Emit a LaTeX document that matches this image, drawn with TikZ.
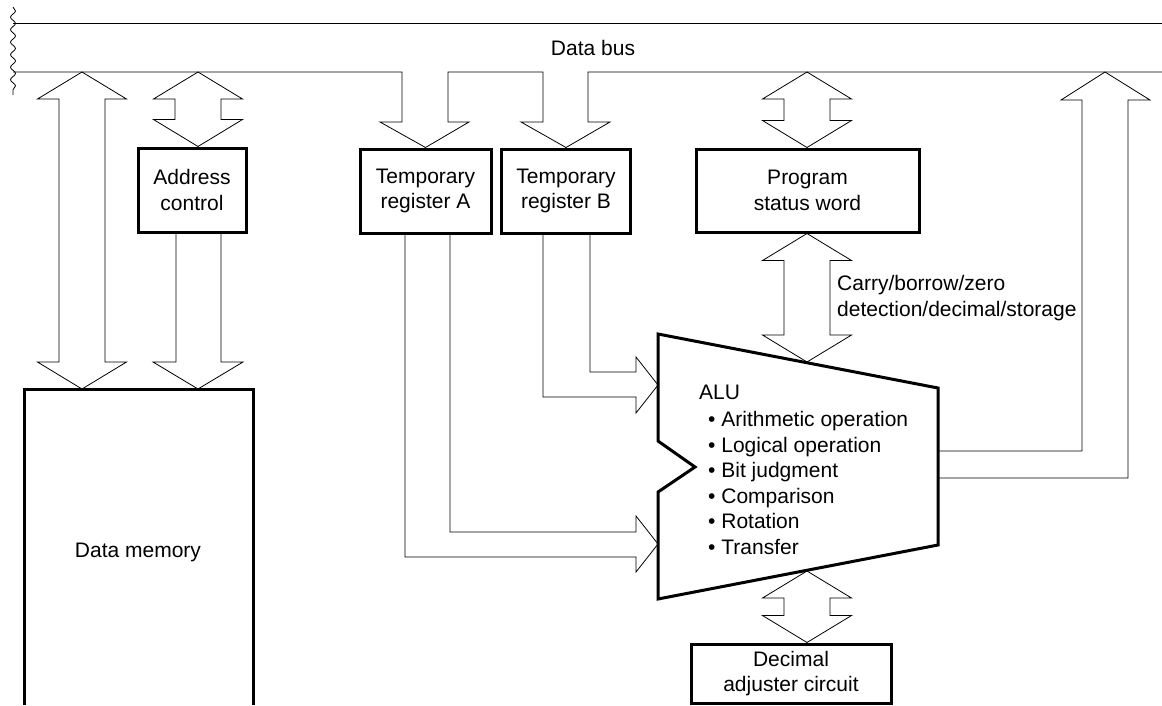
\documentclass[tikz,border=0pt]{standalone}
\usepackage{fontspec}
\setmainfont{Liberation Sans}
\usetikzlibrary{calc,decorations.pathmorphing}

\tikzset{
  wire/.style={line width=0.8pt, line join=miter},
  heavy/.style={line width=3pt, line join=miter},
  box/.style={draw, heavy, align=center, inner sep=0pt},
}

% fat double arrow between two tips, #1 above #2
\newcommand{\dblfat}[2]{%
  \draw[wire] (#1) -- ++(44.5,27) -- ++(-21.5,0) -- ($(#2)+(23,-27)$) -- ++(21.5,0)
    -- (#2) -- ++(-44.5,-27) -- ++(21.5,0) -- ($(#1)+(-23,27)$) -- ++(-21.5,0) -- cycle;
}

\begin{document}
\begin{tikzpicture}[x=1pt, y=-1pt, font=\fontsize{21}{25.5}\selectfont]
  \useasboundingbox (0,0) rectangle (1162,705);

  % data bus
  \draw[wire] (13,23) -- (1162,23);
  \draw[wire, decorate, decoration={snake, amplitude=2.5pt, segment length=12.5pt}]
    (13,7) -- (13,95);
  \node (bus) at (593,48) {Data bus};

  % boxes
  \node[box, minimum width=108pt, minimum height=84pt] (addr) at (192,190) {Address\\control};
  \node[box, minimum width=131pt, minimum height=84pt] (regA) at (425.5,191) {Temporary\\register A};
  \node[box, minimum width=129pt, minimum height=84pt] (regB) at (566,191) {Temporary\\register B};
  \node[box, minimum width=223pt, minimum height=83pt] (psw) at (807.5,190.5) {Program\\status word};
  \node[box, minimum width=200pt, minimum height=59pt] (dec) at (791,673.5) {Decimal\\adjuster circuit};

  % data memory
  \draw[heavy] (24,705) -- (24,389) -- (253,389) -- (253,705);
  \node (mem) at (138,552) {Data memory};

  % arrow tips
  \coordinate (bus1) at (82,72);
  \coordinate (bus2) at (198,72);
  \coordinate (bus3) at (807,72);
  \coordinate (bus4) at (1105,72);
  \coordinate (memtop) at (82,389);
  \coordinate (addrtop) at (bus2 |- addr.north);
  \coordinate (pswtop) at (bus3 |- psw.north);
  \coordinate (pswbot) at (bus3 |- psw.south);
  \coordinate (alutop) at (807,362);
  \coordinate (alubot) at (807,571);
  \coordinate (dectop) at (alubot |- dec.north);

  % lower bus line with the register inputs
  \draw[wire] (13,72) -- (402,72) -- (402,122) -- (380,122) -- (regA.north)
    -- (469,122) -- (448,122) -- (448,72) -- (543,72) -- (543,122) -- (521,122)
    -- (regB.north) -- (610,122) -- (588,122) -- (588,72) -- (1162,72);

  % double arrows
  \dblfat{bus1}{memtop}
  \dblfat{bus2}{addrtop}
  \dblfat{bus3}{pswtop}
  \dblfat{pswbot}{alutop}
  \dblfat{alubot}{dectop}

  % address control to memory
  \draw[wire] (176,232) -- (176,362) -- (153,362) -- (198,389) -- (243,362)
    -- (221,362) -- (221,232);

  % ALU
  \draw[heavy] (658,334) -- (938,388) -- (938,545) -- (658,599) -- (658,492)
    -- (695,467) -- (658,441) -- cycle;
  \node[anchor=base west, inner sep=0pt] (alu) at (699,399) {ALU};
  \foreach \op [count=\i] in {Arithmetic operation, Logical operation, Bit judgment,
      Comparison, Rotation, Transfer}
    \node[anchor=base west, inner sep=0pt] (op\i) at (708,401+25.5*\i) {\textbullet\ \op};
  \node[anchor=west, align=left, inner sep=0pt] (flags) at (837,298)
    {Carry/borrow/zero\\detection/decimal/storage};

  % register B to ALU
  \draw[wire] (543,233) -- (543,397) -- (636,397) -- (636,413) -- (658,385)
    -- (636,357) -- (636,372) -- (590,372) -- (590,233);
  % register A to ALU
  \draw[wire] (405,233) -- (405,557) -- (636,557) -- (636,572) -- (658,544)
    -- (636,516) -- (636,532) -- (450,532) -- (450,233);

  % ALU to bus
  \draw[wire] (938,451) -- (1082,451) -- (1082,100) -- (1061,100) -- (bus4)
    -- (1150,100) -- (1128,100) -- (1128,478) -- (938,478);

\end{tikzpicture}
\end{document}
